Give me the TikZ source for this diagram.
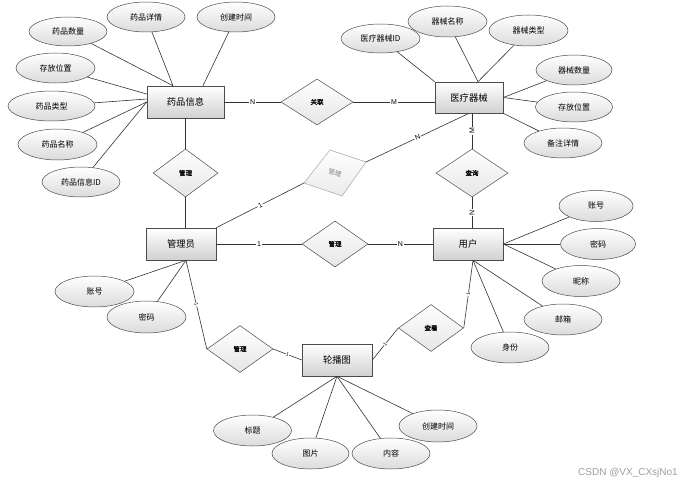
\documentclass[tikz,border=0pt]{standalone}
\usepackage{fontspec}
\setmainfont{Liberation Sans}
\newfontfamily\cjk{Noto Sans CJK SC}
\newfontfamily\cjkb[FakeBold=1.2]{Noto Sans CJK SC}
\usetikzlibrary{shapes.geometric,calc}
\begin{document}
\begin{tikzpicture}[x=1pt,y=-1pt,
  line/.style={draw=black!80, line width=0.6pt},
  sz/.style 2 args={minimum width=#1pt, minimum height=#2pt},
  entity/.style={rectangle, draw=black!70, line width=0.6pt, top color=white, bottom color=black!18, inner sep=0, font=\cjk\fontsize{9.3}{10}\selectfont},
  attr/.style={ellipse, draw=black!70, line width=0.5pt, top color=white, bottom color=black!14, inner sep=0, font=\cjk\fontsize{8}{9}\selectfont},
  rel/.style={diamond, draw=black!70, line width=0.5pt, top color=white, bottom color=black!10, inner sep=0, font=\cjkb\fontsize{6.5}{7}\selectfont},
  lab/.style={fill=white, inner sep=0.8pt, font=\fontsize{7}{8}\selectfont},
  tlab/.style={fill=white, inner sep=0.3pt, font=\fontsize{5}{5}\selectfont, sloped},
]
\fill[white] (0,0) rectangle (693,487);
\useasboundingbox (0,0) rectangle (693,487);

% entities
\node[entity, sz={77}{32}] (yp) at (185.5,102) {药品信息};
\node[entity, sz={68}{31}] (yl) at (469,97.5) {医疗器械};
\node[entity, sz={70}{32}] (gly) at (181,244) {管理员};
\node[entity, sz={70}{32}] (yh) at (468,244) {用户};
\node[entity, sz={70}{32}] (lbt) at (337,360) {轮播图};

% relationships
\node[rel, sz={72}{46}] (gl) at (317,102) {关联};
\node[rel, sz={65}{48}] (m1) at (185.5,173) {管理};
\node[rel, sz={66}{46}] (m2) at (335,244) {管理};
\node[rel, sz={72}{48}] (cx) at (472,173) {查询};
\node[rel, sz={66}{47}] (m3) at (240,349) {管理};
\node[rel, sz={65}{47}] (ck) at (431,328) {查看};

% grey tilted diamond
\coordinate (gkT) at (330,150);
\coordinate (gkR) at (366,162);
\coordinate (gkB) at (342,196);
\coordinate (gkL) at (304,183);
\path[draw=black!35, line width=0.5pt, top color=white, bottom color=black!8] (gkT)--(gkR)--(gkB)--(gkL)--cycle;
\node[text=black!50, font=\cjk\fontsize{6.5}{7}\selectfont, rotate=-15] (gk) at (335,173) {管理};

% attributes: drug info
\node[attr, sz={78}{29}] (a1) at (68,31.5) {药品数量};
\node[attr, sz={78}{30}] (a2) at (146,17) {药品详情};
\node[attr, sz={78}{30}] (a3) at (236,17) {创建时间};
\node[attr, sz={79}{30}] (a4) at (55.5,68) {存放位置};
\node[attr, sz={87}{30}] (a5) at (51.5,106) {药品类型};
\node[attr, sz={79}{31}] (a6) at (57.5,144.5) {药品名称};
\node[attr, sz={78}{30}] (a7) at (81,182) {药品信息ID};

% attributes: medical device
\node[attr, sz={79}{29}] (b1) at (380.5,38.5) {医疗器械ID};
\node[attr, sz={79}{31}] (b2) at (447.5,21.5) {器械名称};
\node[attr, sz={79}{31}] (b3) at (528.5,30.5) {器械类型};
\node[attr, sz={76}{30}] (b4) at (574,70) {器械数量};
\node[attr, sz={77}{30}] (b5) at (574,107) {存放位置};
\node[attr, sz={78}{30}] (b6) at (563,143) {备注详情};

% attributes: user
\node[attr, sz={74}{31}] (c1) at (596,206) {账号};
\node[attr, sz={75}{31}] (c2) at (598,244) {密码};
\node[attr, sz={78}{31}] (c3) at (581,281) {昵称};
\node[attr, sz={78}{31}] (c4) at (563,319.5) {邮箱};
\node[attr, sz={78}{31}] (c5) at (510,347.5) {身份};

% attributes: admin
\node[attr, sz={79}{31}] (d1) at (94.5,291.5) {账号};
\node[attr, sz={79}{32}] (d2) at (146.5,317) {密码};

% attributes: carousel
\node[attr, sz={78}{31}] (e1) at (252.5,430.5) {标题};
\node[attr, sz={77}{31}] (e2) at (310.5,453.5) {图片};
\node[attr, sz={78}{31}] (e3) at (391,453.5) {内容};
\node[attr, sz={78}{32}] (e4) at (438,426) {创建时间};

% helper coordinates
\coordinate (ypt) at ($(yp.north)+(-12.5,0)$);
\coordinate (ypt2) at ($(yp.north)+(17.5,0)$);
\coordinate (ylt) at ($(yl.north)+(9,0)$);
\coordinate (glyb) at ($(gly.south)+(5,0)$);
\coordinate (yhb) at ($(yh.south)+(5,0)$);

% attribute lines
\draw[line] (a1) -- (ypt);
\draw[line] (a2) -- (ypt);
\draw[line] (a3) -- (ypt2);
\draw[line] (a4) -- ($(yp.west)+(0,-8)$);
\draw[line] (a5) -- ($(yp.west)+(0,-3)$);
\draw[line] (a6) -- (yp.west);
\draw[line] (a7) -- (yp.west);

\draw[line] (b1) -- (yl.north west);
\draw[line] (b2) -- (ylt);
\draw[line] (b3) -- (ylt);
\draw[line] (b4) -- (yl.east);
\draw[line] (b5) -- (yl.east);
\draw[line] (b6) -- (yl.south east);

\draw[line] (c1) -- (yh.east);
\draw[line] (c2) -- (yh.east);
\draw[line] (c3) -- (yh.east);
\draw[line] (c4) -- (yhb);
\draw[line] (c5) -- (yhb);

\draw[line] (d1) -- (glyb);
\draw[line] (d2) -- (glyb);

\draw[line] (e1) -- (lbt.south);
\draw[line] (e2) -- (lbt.south);
\draw[line] (e3) -- (lbt.south);
\draw[line] (e4) -- (lbt.south);

% relationship lines
\draw[line] (yp.east) -- node[lab]{N} (gl.west);
\draw[line] (gl.east) -- node[lab]{M} (gl.east -| yl.west);
\draw[line] (yl.south) -- node[lab, sloped]{N} (gkR);
\draw[line] (gkL) -- node[lab, sloped]{1} (gly.north east);
\draw[line] (cx.north) -- node[lab, rotate=90]{M} (cx.north |- yl.south);
\draw[line] (cx.south) -- node[lab, rotate=90]{N} (cx.south |- yh.north);
\draw[line] (yp.south) -- (m1.north);
\draw[line] (m1.south) -- (m1.south |- gly.north);
\draw[line] (gly.east) -- node[lab]{1} (m2.west);
\draw[line] (m2.east) -- node[lab]{N} (yh.west);
\draw[line] (glyb) -- node[tlab]{1} (m3.west);
\draw[line] (m3.east) -- node[tlab]{1} (lbt.west);
\draw[line] (lbt.east) -- node[tlab]{1} (ck.west);
\draw[line] (ck.east) -- node[tlab]{1} (yhb);

% watermark
\node[text=black!38, font=\fontsize{10}{12}\selectfont] (wm) at (628,473) {CSDN @VX\_CXsjNo1};
\end{tikzpicture}
\end{document}
